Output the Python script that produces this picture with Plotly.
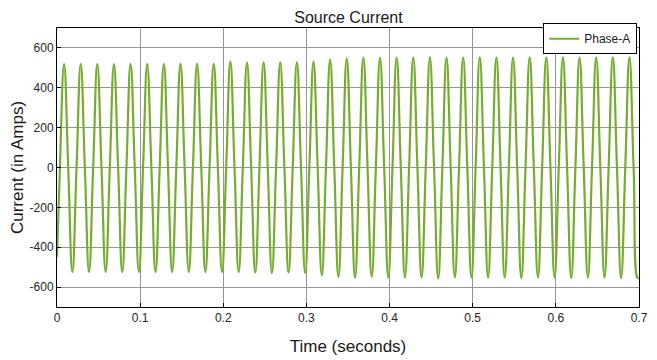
import plotly.graph_objects as go

# ---- data ----
period_s = 0.02          # 50 Hz
first_peak_s = 0.0085    # time of the first positive peak
start_value = -450       # value at t = 0
end_value = -553         # value at t = 0.7

# positive peak of each cycle (A)
peak_amps = [519, 519, 519, 519, 519, 519, 519, 520, 520, 520,
             531, 527, 528, 528, 528, 531, 542, 547, 552, 550,
             552, 552, 553, 552, 552, 553, 552, 552, 553, 552,
             553, 552, 552, 553, 553]
# negative trough of each cycle (A)
trough_amps = [-524, -524, -524, -524, -524, -524, -524, -524, -524, -524,
               -524, -527, -530, -527, -530, -541, -549, -552, -549, -552,
               -552, -552, -557, -552, -552, -553, -552, -555, -553, -552,
               -555, -553, -552, -555, -555]

x_ticks = [0, 0.1, 0.2, 0.3, 0.4, 0.5, 0.6, 0.7]
x_tick_labels = ["0", "0.1", "0.2", "0.3", "0.4", "0.5", "0.6", "0.7"]
y_ticks = [-600, -400, -200, 0, 200, 400, 600]
y_tick_labels = ["-600", "-400", "-200", "0", "200", "400", "600"]

# ---- build the waveform from extrema and zero crossings ----
t = [0.0]
v = [start_value]
q = period_s / 4
for k, (pk, tr) in enumerate(zip(peak_amps, trough_amps)):
    tp = first_peak_s + k * period_s
    t += [tp - q, tp, tp + q, tp + 2 * q]
    v += [0, pk, 0, tr]
t.append(0.7)
v.append(end_value)

green = "#77AC30"
font_family = "Liberation Sans, Arial, Helvetica, sans-serif"

fig = go.Figure()
fig.add_trace(go.Scatter(
    x=t, y=v, mode="lines", name="Phase-A",
    line=dict(color=green, width=2.2, shape="spline", smoothing=1.3),
))

axis_common = dict(
    showline=True, linecolor="black", linewidth=1, mirror=True,
    showgrid=True, gridcolor="#959595", gridwidth=1,
    zeroline=False, ticks="inside", ticklen=4, tickcolor="black",
    tickfont=dict(family=font_family, size=12, color="#262626"),
    automargin=False,
)

# page body adds an 8px offset, so the figure is sized to fill the rest
fig.update_layout(
    width=649, height=352,
    paper_bgcolor="white", plot_bgcolor="white",
    margin=dict(l=49, r=18, t=20, b=53, autoexpand=False),
    title=dict(text="Source Current", x=0.5246, xanchor="center", y=0.974, yanchor="middle",
               font=dict(family=font_family, size=16, color="#1a1a1a")),
    xaxis=dict(range=[0, 0.7], tickvals=x_ticks, ticktext=x_tick_labels,
               title=dict(text="Time (seconds)", standoff=15,
                          font=dict(family=font_family, size=17, color="#1a1a1a")),
               **axis_common),
    yaxis=dict(range=[-700, 700], tickvals=y_ticks, ticktext=y_tick_labels,
               title=dict(text="Current (in Amps)", standoff=7,
                          font=dict(family=font_family, size=17, color="#1a1a1a")),
               **axis_common),
    showlegend=True,
    legend=dict(x=0.997, xanchor="right", y=1.017, yanchor="top",
                bgcolor="white", bordercolor="black", borderwidth=1,
                font=dict(family=font_family, size=12, color="#1a1a1a"),
                itemwidth=30),
)

fig.write_html("out.html")
